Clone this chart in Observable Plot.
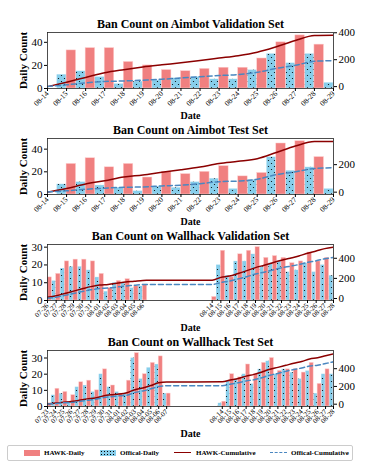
<!DOCTYPE html>
<html><head><meta charset="utf-8">
<script src="https://cdn.jsdelivr.net/npm/d3@7"></script>
<script src="https://cdn.jsdelivr.net/npm/@observablehq/plot@0.6"></script>
<style>
body{margin:0;background:#fff;font-family:"Liberation Serif",serif;}
#wrap{width:373px;padding-top:14px;position:relative;}
#wrap svg{display:block;}
.legend{margin:7px 0 0 7px;width:344px;height:14px;border:1px solid #ccc;border-radius:2px;position:relative;font-weight:bold;font-size:7px;}
.legend span{position:absolute;}
.lt{top:2px;line-height:10px;}
</style></head>
<body>
<svg width="0" height="0" style="position:absolute"><defs>
<pattern id="dots" width="6" height="6" patternUnits="userSpaceOnUse"><rect width="6" height="6" fill="#87CEEB"/><circle cx="1.5" cy="1.5" r="0.6" fill="#000"/><circle cx="4.5" cy="4.5" r="0.6" fill="#000"/></pattern>
</defs></svg>
<div id="wrap"></div>
<script>
// ---- Aimbot Validation ----
const avDates = ["08-14","08-15","08-16","08-17","08-18","08-19","08-20","08-21","08-22","08-23","08-24","08-25","08-26","08-27","08-28","08-29"];
const avHawk = [0,33,35,35,23,20,16,15,17,18,18,26,40,46,38,2];
const avOff  = [1,12,15,10,4,6,7,9,10,8,8,16,30,22,30,5];
const avHawkCum = [0,33,68,103,126,146,162,177,194,212,230,256,296,342,380,382];
const avOffCum  = [1,13,28,38,42,48,55,64,74,82,90,106,136,158,188,193];
// ---- Aimbot Test ----
const atDates = avDates;
const atHawk = [0,27,32,24,27,15,20,18,20,25,16,19,45,47,33,1];
const atOff  = [1,9,11,8,6,3,7,6,11,14,5,13,33,21,24,5];
const atHawkCum = [0,27,59,83,110,125,145,163,183,208,224,243,288,335,368,369];
const atOffCum  = [1,10,21,29,35,38,45,51,62,76,81,94,127,148,172,177];
// ---- Wallhack Validation ----
const wvDates = ["07-26","07-27","07-28","07-29","07-30","07-31","08-01","08-02","08-03","08-04","08-05","08-06",
  "08-14","08-15","08-16","08-17","08-18","08-19","08-20","08-21","08-22","08-23","08-24","08-25","08-26","08-27","08-28"];
const wvHawk = [13,15,22,23,23,22,15,7,11,12,8,9, 2,28,13,26,28,30,24,25,24,21,22,27,22,24,15];
const wvOff  = [2,11,18,19,19,17,13,5,10,10,7,8, 0,20,14,22,22,26,19,21,22,16,17,21,16,20,14];
const wvHawkCum = [13,28,50,73,96,118,133,140,151,163,171,180, 182,210,223,249,277,307,331,356,380,401,423,450,472,496,511];
const wvOffCum  = [2,13,31,50,69,86,99,104,114,124,131,139, 139,159,173,195,217,243,262,283,305,321,338,359,375,395,409];
// ---- Wallhack Test ----
const wtDates = ["07-23","07-24","07-25","07-26","07-27","07-28","07-29","07-30","07-31","08-01","08-02","08-03","08-04","08-05","08-06","08-07",
  "08-14","08-15","08-16","08-17","08-18","08-19","08-20","08-21","08-22","08-23","08-24","08-25","08-26","08-27","08-28"];
const wtHawk = [2,11,9,7,15,16,10,23,13,8,16,33,20,27,31,8, 3,20,18,26,20,27,30,22,23,23,21,27,14,23,22];
const wtOff  = [1,7,8,3,12,13,9,20,12,9,8,30,17,24,26,8, 2,16,17,20,14,23,28,20,23,21,17,22,8,20,20];
const wtHawkCum = [2,13,22,29,44,60,70,93,106,114,130,163,183,210,241,249, 252,272,290,316,336,363,393,415,438,461,482,509,523,546,568];
const wtOffCum  = [1,8,16,19,31,44,53,73,85,94,102,132,149,173,199,207, 209,225,242,262,276,299,327,347,370,391,408,430,438,458,478];

const parse = s => { const [m, d] = s.split("-").map(Number); return new Date(Date.UTC(2023, m - 1, d)); };
const fmt = d3.utcFormat("%m-%d");
const HALF = 12 * 3600 * 1000;

function chart(o) {
  const rows = o.dates.map((s, i) => ({date: parse(s), hawk: o.hawk[i], off: o.off[i], hc: o.hawkCum[i], oc: o.offCum[i]}));
  const lMax = o.lMax, r0 = o.rDom[0], r1 = o.rDom[1];
  const toL = r => (r - r0) / (r1 - r0) * lMax;
  const fromL = y => r0 + y / lMax * (r1 - r0);
  return Plot.plot({
    width: 373, height: 106, marginTop: 18, marginBottom: 32, marginLeft: 47, marginRight: 40,
    style: {fontFamily: "Liberation Serif", fontSize: "10px", color: "#000", background: "transparent", overflow: "visible"},
    x: {type: "utc", domain: o.xDom.map(parse)},
    y: {domain: [0, lMax]},
    marks: [
      Plot.rect(rows, {x1: d => new Date(+d.date - HALF), x2: "date", y1: 0, y2: "off", fill: "url(#dots)", stroke: "#ffffff", strokeOpacity: 0.6, strokeWidth: 0.5, clip: true}),
      Plot.rect(rows, {x1: "date", x2: d => new Date(+d.date + HALF), y1: 0, y2: "hawk", fill: "#F08080", stroke: "#ffd0d0", strokeWidth: 0.5, clip: true}),
      Plot.line(rows, {x: "date", y: d => toL(d.hc), stroke: "#8B0000", strokeWidth: 1.5, curve: "monotone-x", clip: true}),
      Plot.line(rows, {x: "date", y: d => toL(d.oc), stroke: "#4a87c0", strokeWidth: 1.5, strokeDasharray: "5,3", curve: "monotone-x", clip: true}),
      Plot.frame({stroke: "#222", strokeWidth: 0.8}),
      Plot.axisY(o.lTicks, {anchor: "left", tickSize: 3, tickPadding: 2, fontSize: 11, label: null}),
      Plot.axisY(o.rTicks.map(toL), {anchor: "right", tickSize: 3, tickPadding: 2, fontSize: 11, label: null, tickFormat: d => Math.round(fromL(d))}),
      Plot.axisX(rows.map(d => d.date), {tickRotate: -45, tickSize: 3, tickPadding: 1, fontSize: o.xfs, label: null, tickFormat: fmt}),
      Plot.text([o.title], {text: d => d, frameAnchor: "top", dy: -8, lineAnchor: "middle", textAnchor: "middle", fontWeight: "bold", fontSize: 12}),
      Plot.text(["Daily Count"], {text: d => d, frameAnchor: "left", dx: -24, rotate: -90, lineAnchor: "middle", textAnchor: "middle", fontWeight: "bold", fontSize: 11}),
      Plot.text(["Date"], {text: d => d, frameAnchor: "bottom", dy: 27, lineAnchor: "middle", textAnchor: "middle", fontWeight: "bold", fontSize: 10})
    ]
  });
}

const wrap = document.getElementById("wrap");
wrap.append(chart({title: "Ban Count on Aimbot Validation Set", dates: avDates, hawk: avHawk, off: avOff, hawkCum: avHawkCum, offCum: avOffCum,
  lMax: 48.5, rDom: [-14, 402], lTicks: [0, 20, 40], rTicks: [0, 200, 400], xDom: ["08-14", "08-29"], xfs: 7.5}));
wrap.append(chart({title: "Ban Count on Aimbot Test Set", dates: atDates, hawk: atHawk, off: atOff, hawkCum: atHawkCum, offCum: atOffCum,
  lMax: 49.4, rDom: [-17, 390], lTicks: [0, 20, 40], rTicks: [0, 200], xDom: ["08-14", "08-29"], xfs: 7.5}));
wrap.append(chart({title: "Ban Count on Wallhack Validation Set", dates: wvDates, hawk: wvHawk, off: wvOff, hawkCum: wvHawkCum, offCum: wvOffCum,
  lMax: 31.5, rDom: [-20, 537], lTicks: [0, 10, 20, 30], rTicks: [0, 200, 400], xDom: ["07-26", "08-28"], xfs: 7}));
wrap.append(chart({title: "Ban Count on Wallhack Test Set", dates: wtDates, hawk: wtHawk, off: wtOff, hawkCum: wtHawkCum, offCum: wtOffCum,
  lMax: 34.65, rDom: [-26, 605], lTicks: [0, 10, 20, 30], rTicks: [0, 200, 400], xDom: ["07-23", "08-28"], xfs: 7}));

const leg = document.createElement("div");
leg.className = "legend";
leg.innerHTML =
  '<span style="left:16px;top:4px;width:16px;height:6px;background:#F08080"></span>' +
  '<span class="lt" style="left:36px">HAWK-Daily</span>' +
  '<span style="left:92px;top:4px;width:16px;height:6px;background-color:#87CEEB;background-image:radial-gradient(#000 0.6px, transparent 0.9px);background-size:3px 3px"></span>' +
  '<span class="lt" style="left:112px">Offical-Daily</span>' +
  '<span style="left:166px;top:6px;width:17px;height:0;border-top:1.5px solid #8B0000"></span>' +
  '<span class="lt" style="left:188px">HAWK-Cumulative</span>' +
  '<span style="left:262px;top:6px;width:17px;height:0;border-top:1.5px dashed #4a87c0"></span>' +
  '<span class="lt" style="left:283px">Offical-Cumulative</span>';
wrap.append(leg);
</script>
</body></html>
